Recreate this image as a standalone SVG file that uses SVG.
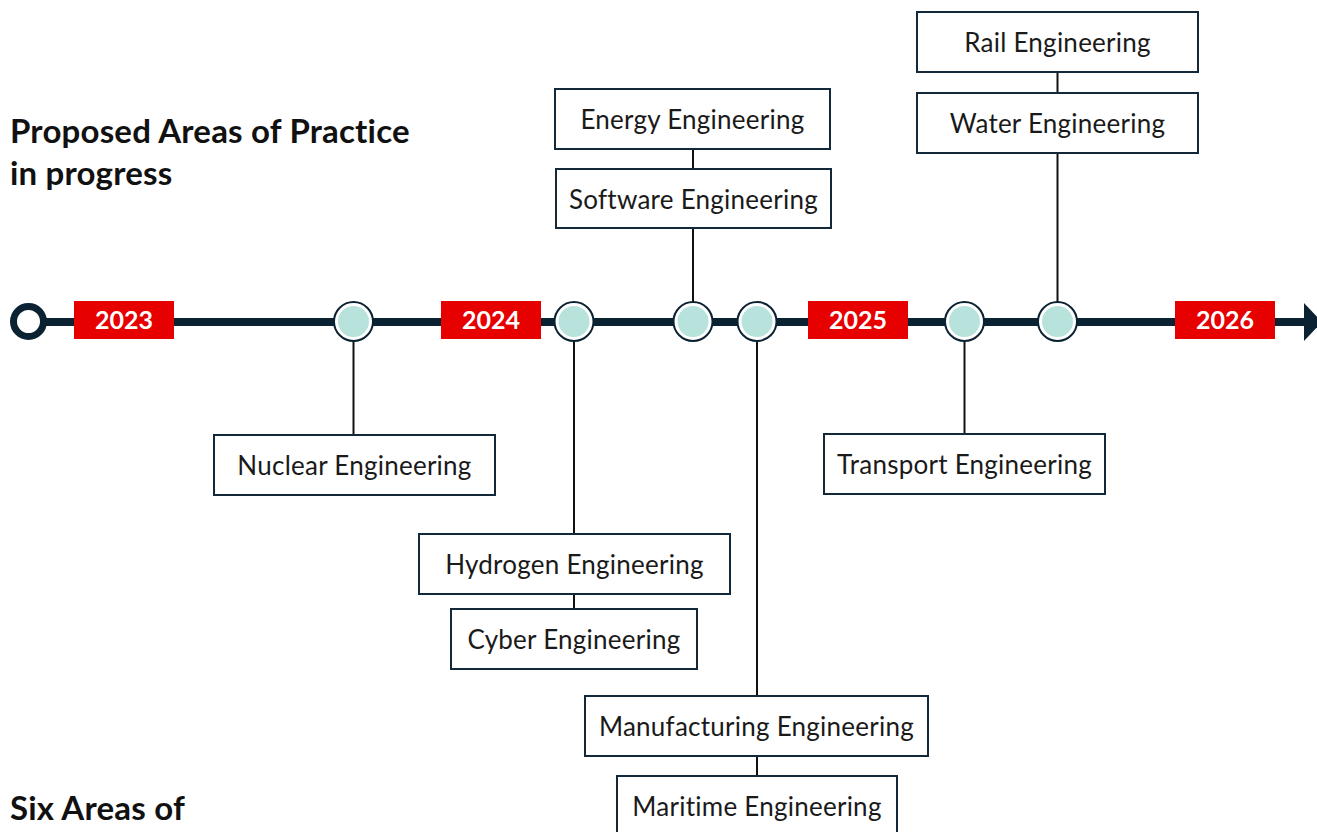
<svg xmlns="http://www.w3.org/2000/svg" width="1317" height="832" viewBox="0 0 1317 832">
<style>
.title{font-family:Lato,"Liberation Sans",sans-serif;font-weight:700;font-size:33px;letter-spacing:0.2px;fill:#111}
.box{fill:#fff;stroke:#13293a;stroke-width:2}
.lbl{font-family:Lato,"Liberation Sans",sans-serif;font-size:26px;letter-spacing:0.25px;fill:#1a1a1a;text-anchor:middle;dominant-baseline:central}
.yr{fill:#e60000}
.yrt{font-family:Lato,"Liberation Sans",sans-serif;font-weight:700;font-size:25px;fill:#fff;text-anchor:middle;dominant-baseline:central}
.ms{fill:#fff;stroke:#0b2233;stroke-width:2}
.msi{fill:#b8e3dc}
.conn{stroke:#111;stroke-width:2;fill:none}
</style>
<rect width="1317" height="832" fill="#fff"/>
<text class="title" x="10" y="143">Proposed Areas of Practice</text>
<text class="title" x="10" y="185">in progress</text>
<text class="title" x="10" y="820">Six Areas of</text>

<g id="timeline">
<line x1="28" y1="322" x2="1306" y2="322" stroke="#0b2233" stroke-width="8"/>
<polygon points="1304,303 1322,322 1304,341" fill="#0b2233"/>
<circle cx="28.5" cy="321.5" r="15" fill="#fff" stroke="#0b2233" stroke-width="7"/>
</g>

<g id="connectors">
<line class="conn" x1="353.5" y1="341" x2="353.5" y2="435"/>
<line class="conn" x1="574" y1="341" x2="574" y2="534"/>
<line class="conn" x1="574" y1="594" x2="574" y2="609"/>
<line class="conn" x1="693" y1="149" x2="693" y2="169"/>
<line class="conn" x1="693" y1="229" x2="693" y2="302"/>
<line class="conn" x1="757" y1="341" x2="757" y2="696"/>
<line class="conn" x1="757" y1="756" x2="757" y2="776"/>
<line class="conn" x1="964.5" y1="341" x2="964.5" y2="434"/>
<line class="conn" x1="1057.5" y1="72" x2="1057.5" y2="93"/>
<line class="conn" x1="1057.5" y1="153" x2="1057.5" y2="302"/>
</g>

<g id="year-2023"><rect class="yr" x="74" y="301" width="100" height="38"/><text class="yrt" x="124" y="319">2023</text></g>
<g id="year-2024"><rect class="yr" x="441" y="301" width="100" height="38"/><text class="yrt" x="491" y="319">2024</text></g>
<g id="year-2025"><rect class="yr" x="808" y="301" width="100" height="38"/><text class="yrt" x="858" y="319">2025</text></g>
<g id="year-2026"><rect class="yr" x="1175" y="301" width="100" height="38"/><text class="yrt" x="1225" y="319">2026</text></g>

<g id="m1"><circle class="ms" cx="353.5" cy="321.5" r="19.5"/><circle class="msi" cx="353.5" cy="321.5" r="15.5"/></g>
<g id="m2"><circle class="ms" cx="574" cy="321.5" r="19.5"/><circle class="msi" cx="574" cy="321.5" r="15.5"/></g>
<g id="m3"><circle class="ms" cx="693" cy="321.5" r="19.5"/><circle class="msi" cx="693" cy="321.5" r="15.5"/></g>
<g id="m4"><circle class="ms" cx="757" cy="321.5" r="19.5"/><circle class="msi" cx="757" cy="321.5" r="15.5"/></g>
<g id="m5"><circle class="ms" cx="964.5" cy="321.5" r="19.5"/><circle class="msi" cx="964.5" cy="321.5" r="15.5"/></g>
<g id="m6"><circle class="ms" cx="1057.5" cy="321.5" r="19.5"/><circle class="msi" cx="1057.5" cy="321.5" r="15.5"/></g>

<g id="nuclear"><rect class="box" x="214" y="435" width="281" height="60"/><text class="lbl" x="354.5" y="465">Nuclear Engineering</text></g>
<g id="hydrogen"><rect class="box" x="419" y="534" width="311" height="60"/><text class="lbl" x="574.5" y="564">Hydrogen Engineering</text></g>
<g id="cyber"><rect class="box" x="451" y="609" width="246" height="60"/><text class="lbl" x="574" y="639">Cyber Engineering</text></g>
<g id="manufacturing"><rect class="box" x="585" y="696" width="343" height="60"/><text class="lbl" x="756.5" y="726">Manufacturing Engineering</text></g>
<g id="maritime"><rect class="box" x="617" y="776" width="280" height="60"/><text class="lbl" x="757" y="806">Maritime Engineering</text></g>
<g id="energy"><rect class="box" x="555" y="89" width="275" height="60"/><text class="lbl" x="692.5" y="119">Energy Engineering</text></g>
<g id="software"><rect class="box" x="556" y="169" width="275" height="59"/><text class="lbl" x="693.5" y="198.5">Software Engineering</text></g>
<g id="rail"><rect class="box" x="917" y="12" width="281" height="60"/><text class="lbl" x="1057.5" y="42">Rail Engineering</text></g>
<g id="water"><rect class="box" x="917" y="93" width="281" height="60"/><text class="lbl" x="1057.5" y="123">Water Engineering</text></g>
<g id="transport"><rect class="box" x="824" y="434" width="281" height="60"/><text class="lbl" x="964.5" y="464">Transport Engineering</text></g>
</svg>
